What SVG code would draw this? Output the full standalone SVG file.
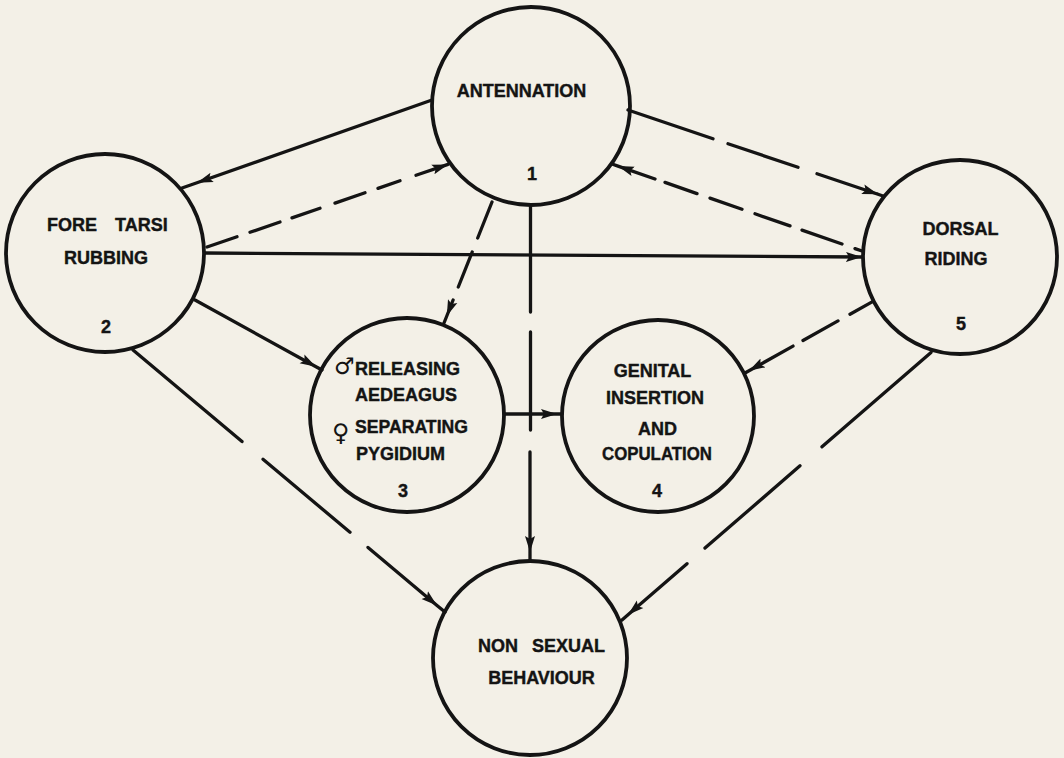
<svg xmlns="http://www.w3.org/2000/svg" width="1064" height="758" viewBox="0 0 1064 758">
<style>
.bg{fill:#f3f0e7}
.node{fill:none;stroke:#141414;stroke-width:3.8}
.t{font-family:"Liberation Sans",Arial,sans-serif;font-weight:bold;font-size:18px;fill:#141414;stroke:#141414;stroke-width:0.4}
.sym{font-family:"DejaVu Sans","Noto Sans",sans-serif;font-weight:bold;fill:#141414}
.c{fill:none;stroke:#141414;stroke-width:3.3;stroke-linecap:round}
</style>
<defs>
<marker id="ah" markerUnits="userSpaceOnUse" markerWidth="18" markerHeight="12" viewBox="0 0 18 12" refX="16" refY="6" orient="auto">
<path d="M0,1 L16,6 L0,11 L3,6 Z" fill="#141414"/>
</marker>
</defs>
<rect class="bg" x="0" y="0" width="1064" height="758"/>

<g id="connectors">
<!-- 1 -> 2 solid -->
<path class="c" marker-end="url(#ah)" d="M197,182.7 L182,188 M432,100 L197,182.7"/>
<!-- 2 -> 1 dashed -->
<path class="c" marker-end="url(#ah)" d="M207,247 L237,236.7 M250,232.3 L280,222 M292,217.9 L320,208.3 M335,203.1 L365,192.8 M378,188.4 L400,180.8 M416,175.3 L448,164.4"/>
<!-- 2 -> 5 solid -->
<path class="c" marker-end="url(#ah)" d="M205,253 L862,257"/>
<!-- 1 -> 5 dashed -->
<path class="c" marker-end="url(#ah)" d="M878,194.3 L883,196 M628,110 L713,138.7 M728,143.7 L798,167.3 M817,173.7 L878,194.3"/>
<!-- 5 -> 1 dashed -->
<path class="c" marker-end="url(#ah)" d="M618,166.1 L612,164 M862,251 L855,248.6 M842,244 L802,230.1 M790,225.9 L755,213.8 M742,209.2 L710,198.1 M697,193.6 L665,182.4 M655,179 L618,166.1"/>
<!-- 1 -> 3 dashed -->
<path class="c" marker-end="url(#ah)" d="M446.8,316 L444,323 M492,202 L477.7,238 M472.2,252 L458.3,287 M453.1,300 L446.8,316"/>
<!-- 1 -> 6 long dashed -->
<path class="c" marker-end="url(#ah)" d="M530,552 L530,560 M530.5,207 L530.5,312 M530.5,332 L530.5,430 M530,452 L530,552"/>
<!-- 2 -> 3 solid -->
<path class="c" marker-end="url(#ah)" d="M316,366.7 L322,370 M195,300 L316,366.7"/>
<!-- 3 -> 4 solid -->
<path class="c" marker-end="url(#ah)" d="M557,414 L562,414 M504,414 L557,414"/>
<!-- 5 -> 4 dashed -->
<path class="c" marker-end="url(#ah)" d="M749,370.8 L745,373 M873,301.4 L850,314.2 M838,320.9 L803,340.5 M793,346.1 L749,370.8"/>
<!-- 2 -> 6 dashed -->
<path class="c" marker-end="url(#ah)" d="M437,605.4 L445,612.1 M133,350 L242,441.6 M263,459.2 L350,532.3 M368,547.4 L437,605.4"/>
<!-- 5 -> 6 dashed -->
<path class="c" marker-end="url(#ah)" d="M628,614.8 L622,620 M931,352.4 L822,446.8 M800,465.8 L705,548.1 M687,563.7 L628,614.8"/>
</g>

<g id="node1">
<circle class="node" cx="531" cy="106" r="99"/>
<text class="t" x="521.5" y="96.5" text-anchor="middle">ANTENNATION</text>
<text class="t" x="532" y="180" text-anchor="middle">1</text>
</g>

<g id="node2">
<circle class="node" cx="105" cy="253" r="99"/>
<text class="t" y="230.5"><tspan x="47">FORE </tspan><tspan x="115">TARSI</tspan></text>
<text class="t" x="106" y="263.5" text-anchor="middle">RUBBING</text>
<text class="t" x="106" y="332.5" text-anchor="middle">2</text>
</g>

<g id="node3">
<circle class="node" cx="407" cy="415" r="97"/>
<text class="sym" x="334" y="374" font-size="23">♂</text>
<text class="t" x="355" y="374.5">RELEASING</text>
<text class="t" x="355" y="400.5">AEDEAGUS</text>
<text class="sym" x="332" y="441" font-size="24">♀</text>
<text class="t" x="355" y="432.5" textLength="113" lengthAdjust="spacingAndGlyphs">SEPARATING</text>
<text class="t" x="356" y="459.5">PYGIDIUM</text>
<text class="t" x="403" y="496.5" text-anchor="middle">3</text>
</g>

<g id="node4">
<circle class="node" cx="658" cy="416" r="96"/>
<text class="t" x="652.5" y="376.5" text-anchor="middle">GENITAL</text>
<text class="t" x="655" y="403.5" text-anchor="middle">INSERTION</text>
<text class="t" x="657.5" y="434.5" text-anchor="middle">AND</text>
<text class="t" x="602" y="459.5" textLength="110" lengthAdjust="spacingAndGlyphs">COPULATION</text>
<text class="t" x="657" y="496.5" text-anchor="middle">4</text>
</g>

<g id="node5">
<circle class="node" cx="960" cy="257" r="97"/>
<text class="t" x="960.5" y="234.5" text-anchor="middle">DORSAL</text>
<text class="t" x="956" y="264.5" text-anchor="middle">RIDING</text>
<text class="t" x="961" y="329.5" text-anchor="middle">5</text>
</g>

<g id="node6">
<circle class="node" cx="530" cy="658" r="97"/>
<text class="t" y="651.5"><tspan x="478">NON </tspan><tspan x="532">SEXUAL</tspan></text>
<text class="t" x="541.5" y="683.5" text-anchor="middle">BEHAVIOUR</text>
</g>
</svg>
